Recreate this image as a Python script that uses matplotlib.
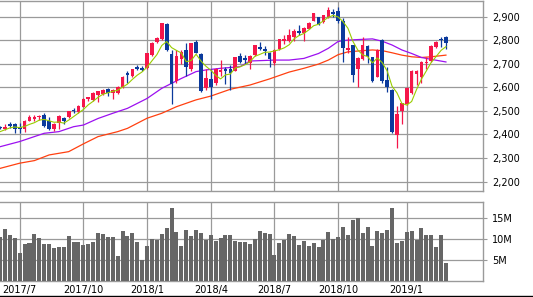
import numpy as np
import pandas as pd
import matplotlib
matplotlib.use("Agg")
from matplotlib import pyplot as plt
from matplotlib.lines import Line2D

# weekly OHLC
opens = [2432, 2422, 2445, 2445, 2433, 2422, 2459, 2467, 2473, 2481,
         2456, 2422, 2450, 2470, 2473, 2504, 2495, 2518, 2549, 2546,
         2569, 2572, 2592, 2578, 2578, 2600, 2662, 2648, 2688, 2682,
         2682, 2736, 2793, 2804, 2869, 2742, 2626, 2719, 2759, 2677,
         2793, 2742, 2597, 2634, 2617, 2665, 2677, 2677, 2671, 2733,
         2725, 2702, 2736, 2773, 2764, 2744, 2702, 2761, 2795, 2795,
         2815, 2841, 2832, 2849, 2883, 2897, 2877, 2897, 2920, 2925,
         2880, 2759, 2778, 2679, 2719, 2776, 2727, 2645, 2801, 2631,
         2589, 2399, 2498, 2529, 2577, 2657, 2643, 2702, 2710, 2770,
         2807, 2812]
highs = [2436, 2445, 2453, 2450, 2447, 2462, 2481, 2484, 2481, 2493,
         2476, 2447, 2481, 2473, 2501, 2512, 2524, 2555, 2561, 2580,
         2586, 2592, 2597, 2592, 2606, 2648, 2671, 2679, 2693, 2691,
         2747, 2793, 2812, 2875, 2872, 2759, 2759, 2759, 2790, 2790,
         2801, 2744, 2679, 2679, 2682, 2716, 2685, 2693, 2730, 2744,
         2739, 2736, 2781, 2793, 2776, 2750, 2761, 2807, 2824, 2846,
         2846, 2866, 2855, 2878, 2917, 2900, 2908, 2940, 2934, 2940,
         2894, 2815, 2781, 2727, 2812, 2778, 2730, 2762, 2804, 2688,
         2592, 2521, 2535, 2600, 2674, 2674, 2711, 2730, 2779, 2796,
         2815, 2818]
lows = [2424, 2419, 2428, 2405, 2405, 2412, 2456, 2456, 2462, 2430,
        2419, 2416, 2425, 2445, 2470, 2493, 2492, 2515, 2543, 2541,
        2539, 2566, 2563, 2552, 2572, 2597, 2617, 2645, 2674, 2668,
        2679, 2733, 2790, 2801, 2753, 2529, 2620, 2699, 2648, 2671,
        2744, 2580, 2589, 2552, 2609, 2648, 2614, 2589, 2668, 2705,
        2699, 2677, 2733, 2759, 2739, 2688, 2696, 2759, 2784, 2792,
        2798, 2824, 2798, 2846, 2880, 2866, 2875, 2894, 2900, 2872,
        2708, 2744, 2623, 2600, 2716, 2702, 2623, 2642, 2620, 2580,
        2408, 2343, 2445, 2527, 2574, 2611, 2620, 2679, 2707, 2767,
        2773, 2764]
closes = [2428, 2433, 2436, 2425, 2422, 2456, 2476, 2473, 2479, 2436,
          2425, 2445, 2479, 2456, 2498, 2501, 2521, 2552, 2558, 2575,
          2583, 2589, 2578, 2589, 2603, 2645, 2654, 2677, 2679, 2674,
          2744, 2790, 2809, 2872, 2759, 2614, 2733, 2750, 2688, 2787,
          2747, 2586, 2640, 2603, 2679, 2674, 2668, 2662, 2727, 2708,
          2716, 2733, 2778, 2764, 2756, 2719, 2759, 2804, 2804, 2821,
          2841, 2829, 2852, 2875, 2914, 2869, 2906, 2928, 2911, 2883,
          2767, 2767, 2654, 2725, 2778, 2733, 2628, 2759, 2628, 2600,
          2411, 2487, 2532, 2597, 2671, 2668, 2708, 2708, 2776, 2793,
          2802, 2787]

# weekly volume, millions
volume = [10.6, 12.5, 11.0, 10.3, 6.8, 8.9, 9.1, 11.3, 10.3, 8.9,
          8.9, 7.9, 8.2, 8.2, 10.8, 9.4, 9.4, 8.7, 8.9, 9.4,
          11.5, 11.3, 10.6, 10.6, 6.0, 12.0, 10.8, 11.5, 9.4, 5.0,
          8.4, 10.1, 9.8, 11.3, 12.7, 17.5, 11.8, 8.4, 12.2, 10.8,
          12.2, 11.5, 9.8, 11.0, 9.6, 10.3, 11.0, 11.0, 9.6, 9.4,
          9.4, 8.9, 10.0, 12.0, 11.5, 11.3, 6.3, 9.1, 9.8, 11.3,
          10.8, 8.7, 9.6, 8.4, 9.1, 8.2, 9.8, 11.8, 10.1, 10.6,
          12.9, 11.0, 14.6, 15.1, 11.5, 12.9, 8.4, 12.0, 11.5, 12.2,
          17.5, 9.1, 9.6, 11.8, 12.0, 9.8, 12.7, 11.0, 11.0, 8.2,
          11.0, 4.4]

# moving averages
ma5 = [2412, 2420, 2428, 2432, 2429, 2434, 2443, 2450, 2461, 2464,
       2458, 2452, 2453, 2448, 2461, 2476, 2491, 2506, 2526, 2541,
       2558, 2571, 2577, 2583, 2588, 2601, 2614, 2634, 2652, 2666,
       2686, 2713, 2739, 2778, 2795, 2769, 2757, 2746, 2709, 2714,
       2741, 2712, 2690, 2673, 2651, 2636, 2653, 2657, 2682, 2688,
       2696, 2709, 2732, 2740, 2749, 2750, 2755, 2760, 2768, 2781,
       2806, 2820, 2829, 2844, 2862, 2868, 2883, 2898, 2906, 2899,
       2879, 2851, 2796, 2759, 2738, 2731, 2704, 2725, 2705, 2670,
       2605, 2577, 2532, 2525, 2540, 2591, 2635, 2670, 2706, 2731,
       2757, 2773]
ma26_idx = [0, 4, 7, 9, 12, 15, 17, 20, 23, 26, 30, 33, 35, 37, 40,
            42, 45, 49, 51, 56, 59, 62, 65, 67, 69, 71, 74, 76, 78,
            80, 82, 84, 86, 88, 91]
ma26 = [2348, 2370, 2391, 2405, 2412, 2433, 2440, 2468, 2490, 2511,
        2553, 2596, 2617, 2638, 2667, 2674, 2681, 2688, 2712, 2716,
        2716, 2723, 2744, 2766, 2795, 2801, 2804, 2806, 2796, 2780,
        2759, 2744, 2727, 2719, 2708]
ma52_idx = [0, 4, 7, 10, 14, 17, 20, 24, 26, 30, 33, 36, 40, 43, 47,
            51, 55, 59, 62, 65, 67, 69, 71, 74, 76, 78, 80, 82, 84,
            86, 88, 91]
ma52 = [2256, 2278, 2289, 2313, 2327, 2360, 2391, 2412, 2426, 2469,
        2490, 2518, 2547, 2563, 2592, 2610, 2636, 2665, 2681, 2699,
        2716, 2739, 2751, 2756, 2759, 2756, 2747, 2737, 2730, 2727,
        2730, 2737]

weeks = pd.date_range("2017-06-05", periods=len(closes), freq="W-MON")

RED = "#f5164a"
BLUE = "#0b3a9c"
GRID = "#9a9a9a"

fig = plt.figure(figsize=(5.33, 2.97), dpi=100)
ax = fig.add_axes([0.0, 0.357, 0.9056, 0.6397])
axv = fig.add_axes([0.0, 0.053, 0.9056, 0.266], sharex=ax)

x = np.arange(len(closes))
o = np.array(opens)
c = np.array(closes)
up = c >= o

# quarter ticks: first week of Jan/Apr/Jul/Oct
tick_pos = []
tick_lab = []
prev = None
for i, d in enumerate(weeks):
    key = (d.year, d.month)
    if d.month in (1, 4, 7, 10) and key != prev:
        tick_pos.append(i)
        tick_lab.append(f"{d.year}/{d.month}")
        prev = key

for a in (ax, axv):
    for s in a.spines.values():
        s.set_color(GRID)
        s.set_linewidth(1.0)
    a.spines["left"].set_visible(False)
    a.yaxis.tick_right()
    a.tick_params(axis="y", length=3, color=GRID, labelsize=7, pad=4)
    a.set_xticks(tick_pos)
    a.grid(True, color=GRID, linewidth=0.9)
    a.set_axisbelow(True)

# moving averages
ax.plot(ma52_idx, ma52, color="#ff4010", lw=0.9, zorder=2)
ax.plot(ma26_idx, ma26, color="#9c10f0", lw=0.9, zorder=2)
ax.plot(x, ma5, color="#99cc00", lw=0.8, zorder=4)

# candles
for mask, col in ((up, RED), (~up, BLUE)):
    ax.vlines(x[mask], np.array(lows)[mask], np.array(highs)[mask],
              color=col, lw=0.9, zorder=3)
    body = np.maximum(np.abs(c - o), 4)[mask]
    ax.bar(x[mask], body, bottom=np.minimum(o, c)[mask], width=0.75,
           color=col, zorder=3)

ax.set_xlim(-0.02, 98.5)
ax.set_ylim(2160, 2967)
ax.set_yticks(range(2200, 3000, 100))
ax.set_yticklabels([f"{v:,}" for v in range(2200, 3000, 100)])
ax.tick_params(axis="x", bottom=False, labelbottom=False)

axv.bar(x, volume, width=0.82, color="#666666", zorder=3)
axv.set_ylim(0, 18.8)
axv.set_yticks([5, 10, 15])
axv.set_yticklabels(["5M", "10M", "15M"])
axv.set_xticklabels(tick_lab)
axv.tick_params(axis="x", length=0, labelsize=7, pad=3)

fig.add_artist(Line2D([0, 1], [0.004, 0.004], color="black", lw=1.0))

fig.savefig("out.png", dpi=100)
